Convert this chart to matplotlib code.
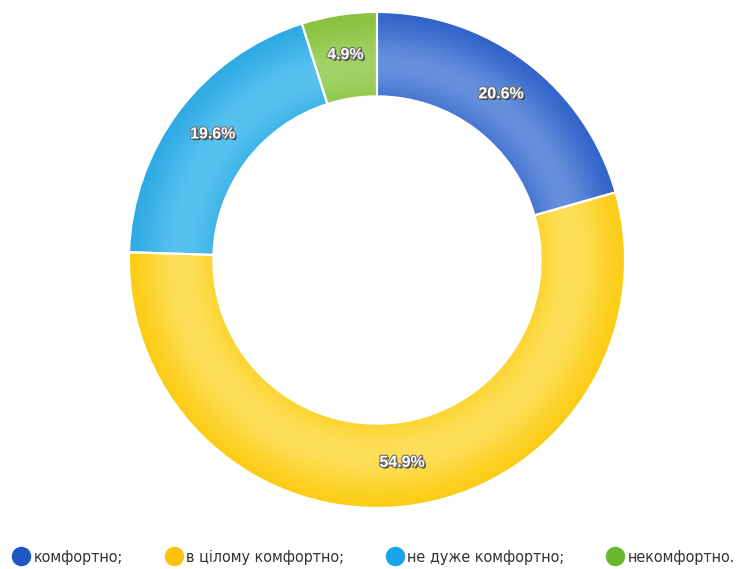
import matplotlib
matplotlib.use("Agg")
import matplotlib.pyplot as plt
import matplotlib.patheffects as pe
from matplotlib.lines import Line2D
import numpy as np

labels = ["комфортно;", "в цілому комфортно;", "не дуже комфортно;", "некомфортно."]
values = [20.6, 54.9, 19.6, 4.9]
dark = ["#2a5cc6", "#fcca0a", "#27a6e2", "#84c038"]
light = ["#6590dc", "#fddf5a", "#58c2ef", "#a2d266"]
legend_colors = ["#1f55c4", "#ffc20e", "#1aa3e8", "#6ab82e"]

W, H = 748, 569
fig = plt.figure(figsize=(W / 100, H / 100), dpi=100)
cx, cy, R = 377, 260, 248
ax = fig.add_axes([(cx - R) / W, (H - cy - R) / H, 2 * R / W, 2 * R / H])

wedges, _ = ax.pie(values, colors=dark, startangle=90, counterclock=False, radius=1,
                   wedgeprops=dict(width=0.34, edgecolor="white", linewidth=1.5))
ax.set_xlim(-1, 1); ax.set_ylim(-1, 1); ax.set_aspect("equal")
ax.axis("off")

# radial shading inside each wedge (lighter band in the ring, darker at the outer edge)
g = np.linspace(-1, 1, 600)
xx, yy = np.meshgrid(g, g)
rr = np.hypot(xx, yy)
t = np.clip(np.exp(-((rr - 0.79) / 0.15) ** 2), 0, 1)[..., None]
for w, d, l in zip(wedges, dark, light):
    d = np.array(matplotlib.colors.to_rgb(d)); l = np.array(matplotlib.colors.to_rgb(l))
    img = d + t * (l - d)
    im = ax.imshow(img, extent=[-1, 1, -1, 1], origin="lower", zorder=w.get_zorder() + 0.1)
    im.set_clip_path(w)
for w in wedges:
    w.set_facecolor("none"); w.set_zorder(5)

start = 90.0
for v in values:
    mid = np.deg2rad(start - v * 3.6 / 2)
    start -= v * 3.6
    ax.text(0.83 * np.cos(mid), 0.83 * np.sin(mid) + 0.008, f"{v}%", ha="center", va="center", zorder=6,
            color="white", fontsize=11.5, fontweight="bold", family=["Liberation Sans", "DejaVu Sans"],
            path_effects=[pe.withSimplePatchShadow(offset=(1.2, -1.2), shadow_rgbFace="#222222", alpha=0.8),
                          pe.withStroke(linewidth=1.5, foreground="#6a6a6a")])

handles = [Line2D([0], [0], marker="o", ls="", markersize=13, markerfacecolor=c, markeredgecolor=c)
           for c in legend_colors]
fig.legend(handles, labels, loc="center", bbox_to_anchor=(0.5, 12 / H), ncol=4, frameon=False,
           prop=dict(family="DejaVu Sans", stretch="condensed", size=11.5),
           handletextpad=0.3, columnspacing=2.65, handlelength=1.0,
           labelcolor="#333333")

fig.savefig("out.png", dpi=100)
